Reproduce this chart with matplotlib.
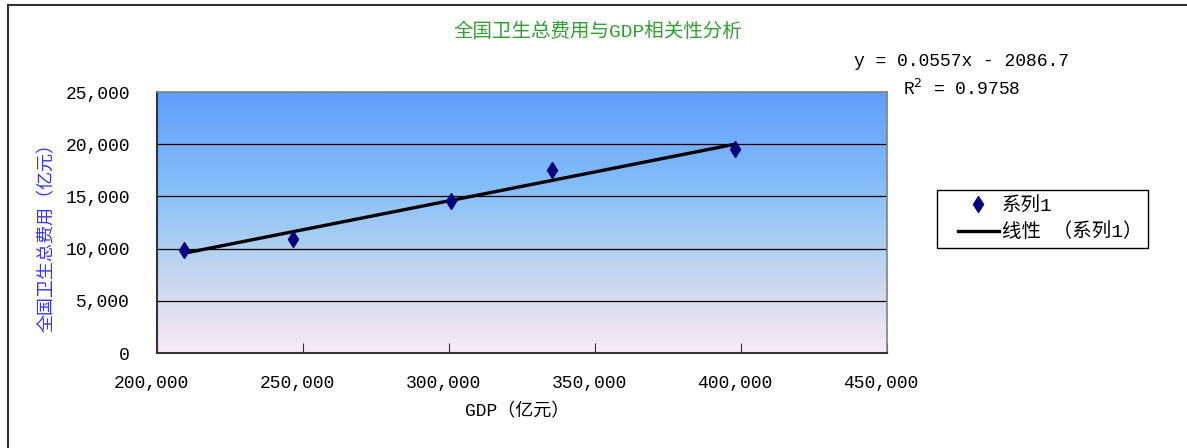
import numpy as np
import matplotlib.pyplot as plt
from matplotlib.colors import LinearSegmentedColormap
from matplotlib.patches import Rectangle
from matplotlib.ticker import FuncFormatter
from matplotlib.transforms import ScaledTranslation

plt.rcParams['font.family'] = ['Liberation Mono', 'Noto Sans CJK SC']

# data (亿元)
gdp = [209407, 246619, 300670, 335353, 397983]
health = [9843, 10900, 14535, 17560, 19500]
x_ticks = [200000, 250000, 300000, 350000, 400000, 450000]
y_ticks = [0, 5000, 10000, 15000, 20000, 25000]

title = "全国卫生总费用与GDP相关性分析"
xlabel = "GDP（亿元）"
ylabel = "全国卫生总费用（亿元）"
eq_text = "y = 0.0557x - 2086.7"
r2_text = "R$^2$ = 0.9758"

W, H = 1187, 448
fig = plt.figure(figsize=(W / 100, H / 100), dpi=100)
fig.patches.append(Rectangle((7.5 / W, -0.1), 1.2, 1.1 - 5.5 / H, transform=fig.transFigure,
                             fill=False, edgecolor='#333333', linewidth=1.5))

ax = fig.add_axes([157 / W, 1 - 353 / H, 730 / W, 261 / H])
ax.set_xlim(x_ticks[0], x_ticks[-1])
ax.set_ylim(y_ticks[0], y_ticks[-1])

# gradient background
cmap = LinearSegmentedColormap.from_list('bg', [
    (0.0, '#fbe9f7'), (0.2, '#d8dcee'), (0.45, '#a6cdf3'),
    (0.65, '#84bdf8'), (1.0, '#5f9efe')])
grad = np.linspace(0, 1, 256).reshape(-1, 1)
ax.imshow(grad, cmap=cmap, aspect='auto', origin='lower',
          extent=[x_ticks[0], x_ticks[-1], y_ticks[0], y_ticks[-1]], zorder=0)

for yv in y_ticks[1:-1]:
    ax.axhline(yv, color='black', linewidth=0.9, zorder=1)

# trend line
k, b = np.polyfit(gdp, health, 1)
xs = np.array([min(gdp), max(gdp)])
tl, = ax.plot(xs, k * xs + b, color='black', linewidth=2.4, zorder=3, label='线性 （系列1）')
sc, = ax.plot(gdp, health, linestyle='none', marker='d', markersize=8.5,
              color='#00007f', zorder=4, label='系列1')

ax.set_xticks(x_ticks)
ax.set_yticks(y_ticks)
fmt = FuncFormatter(lambda v, p: f"{int(v):,}")
ax.xaxis.set_major_formatter(fmt)
ax.yaxis.set_major_formatter(fmt)
ax.tick_params(axis='x', direction='in', length=7, pad=15.5, labelsize=13, color='#333333')
ax.tick_params(axis='y', direction='in', length=0, pad=19.5, labelsize=13)
shift = ScaledTranslation(-6 / 100, 0, fig.dpi_scale_trans)
for lab in ax.get_xticklabels():
    lab.set_transform(lab.get_transform() + shift)

for s in ['top', 'right']:
    ax.spines[s].set_color('#808080')
    ax.spines[s].set_linewidth(1.2)
for s in ['left', 'bottom']:
    ax.spines[s].set_color('#333333')
    ax.spines[s].set_linewidth(1.5)

fig.text(598 / W, 1 - 32 / H, title, color='#33a033', fontsize=14,
         ha='center', va='center')
fig.text(47 / W, 1 - 233 / H, ylabel, color='#3333ff', fontsize=13,
         ha='center', va='center', rotation=90)
fig.text(517 / W, 1 - 412 / H, xlabel, color='black', fontsize=13,
         ha='center', va='center')
fig.text(962 / W, 1 - 61 / H, eq_text, fontsize=13, ha='center', va='center')
fig.text(962 / W, 1 - 89 / H, r2_text, fontsize=13, ha='center', va='center')

# legend: frame drawn separately to match the reference box
fig.patches.append(Rectangle((937 / W, 1 - 248 / H), 211 / W, 58 / H, transform=fig.transFigure,
                             fill=False, edgecolor='black', linewidth=1.0))
leg = fig.legend(handles=[sc, tl], loc='upper left',
                 bbox_to_anchor=(958 / W, 1 - 197 / H), frameon=False,
                 fontsize=14, handlelength=2.1, handletextpad=0.15,
                 borderpad=0, labelspacing=0.4, borderaxespad=0)

fig.savefig('out.png', dpi=100)
